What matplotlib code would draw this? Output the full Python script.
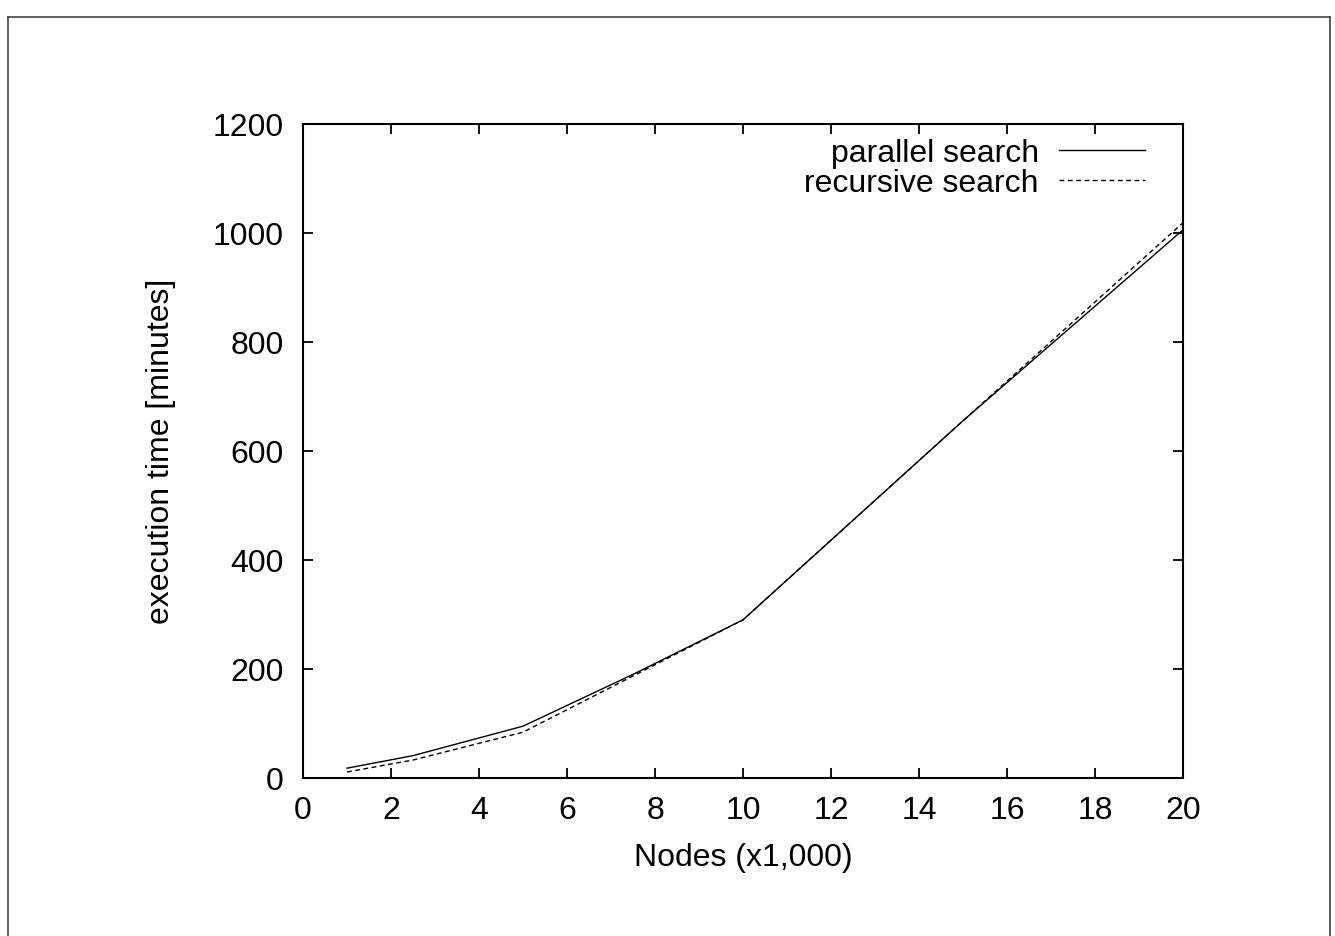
import matplotlib
matplotlib.use("Agg")
import matplotlib.pyplot as plt
from matplotlib.lines import Line2D

# Execution time measurements (minutes) versus number of nodes (thousands)
nodes = [1, 2.5, 5, 7.5, 10, 15, 20]
parallel_search = [18, 41, 95, 190, 290, 655, 1005]
recursive_search = [11, 33, 84, 187, 290, 655, 1018]

x_ticks = [0, 2, 4, 6, 8, 10, 12, 14, 16, 18, 20]
y_ticks = [0, 200, 400, 600, 800, 1000, 1200]

plt.rcParams["font.family"] = ["Liberation Sans", "DejaVu Sans"]
FS = 23

W, H = 1335, 937
fig = plt.figure(figsize=(W / 100, H / 100), dpi=100)
ax = fig.add_axes([303 / W, 1 - 779 / H, 880 / W, (779 - 124.5) / H])

ax.plot(nodes, parallel_search, color="black", lw=1.0, label="parallel search")
ax.plot(nodes, recursive_search, color="black", lw=1.0, dashes=(3.5, 2.5),
        label="recursive search")

ax.set_xlim(0, 20)
ax.set_ylim(0, 1200)
ax.set_xticks(x_ticks)
ax.set_yticks(y_ticks)
ax.tick_params(direction="in", length=7, width=1.3, top=True, right=True,
               labelsize=FS)
ax.tick_params(axis="x", pad=12.5)
ax.tick_params(axis="y", pad=14)
for s in ax.spines.values():
    s.set_linewidth(1.5)

ax.set_xlabel("Nodes (x1,000)", fontsize=FS, labelpad=12)
ax.set_ylabel("execution time [minutes]", fontsize=FS, labelpad=26)

ax.legend(loc="upper right", bbox_to_anchor=(1145 / W, 1 - 139 / H),
          bbox_transform=fig.transFigure, frameon=False, markerfirst=False,
          fontsize=FS, handlelength=2.7, handletextpad=0.62,
          labelspacing=0.0, borderpad=0, borderaxespad=0)

# Outer page frame: top, left and right edges
frame_kw = dict(color="#444444", lw=1.2, transform=fig.transFigure)
fig.add_artist(Line2D([8 / W, 1330 / W], [1 - 18 / H, 1 - 18 / H], **frame_kw))
fig.add_artist(Line2D([8 / W, 8 / W], [0, 1 - 18 / H], **frame_kw))
fig.add_artist(Line2D([1330 / W, 1330 / W], [0, 1 - 18 / H], **frame_kw))

fig.savefig("out.png", dpi=100)
